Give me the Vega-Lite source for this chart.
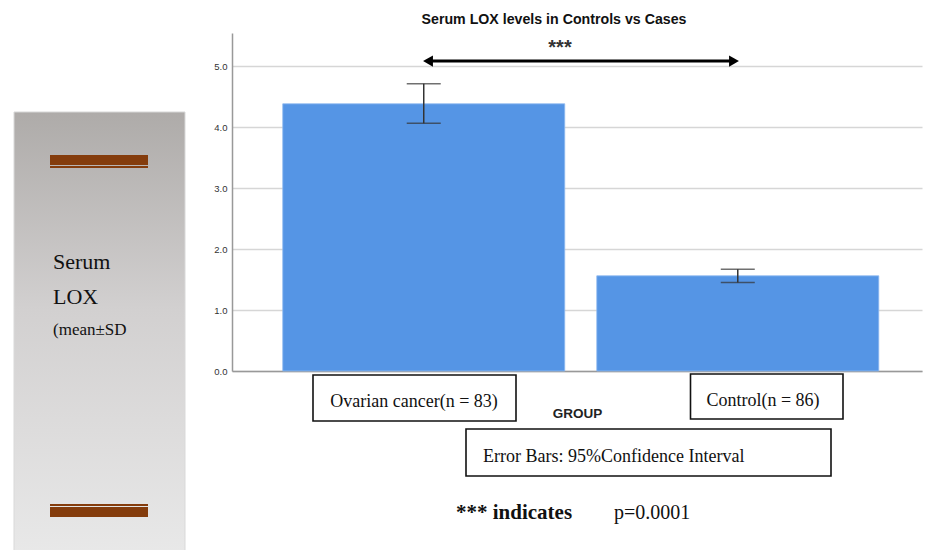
{
  "$schema": "https://vega.github.io/schema/vega-lite/v6.json",
  "autosize": "none",
  "width": 690,
  "height": 338,
  "padding": {"left": 232, "top": 33, "right": 3, "bottom": 179},
  "background": "white",
  "title": {"text": "Serum LOX levels in Controls vs Cases", "font": "Liberation Sans", "fontSize": 14.2, "fontWeight": "bold", "color": "#111", "anchor": "middle", "dx": -23, "offset": 6},
  "config": {
    "view": {"stroke": null},
    "axisY": {"grid": true, "gridColor": "#d6d6d6", "gridWidth": 1.5, "domainColor": "#999", "domainWidth": 1.5, "ticks": false, "labelFont": "Liberation Sans", "labelFontSize": 9.5, "labelColor": "#333", "labelPadding": 5},
    "axisX": {"grid": false}
  },
  "datasets": {
    "groups": [
      {"group": "Ovarian cancer", "mean": 4.38, "lo": 4.06, "hi": 4.71},
      {"group": "Control", "mean": 1.56, "lo": 1.45, "hi": 1.67}
    ],
    "panel": [{"x": -2.18, "x2": -0.47, "y": 4.246, "y2": -2.95}],
    "stripes": [
      {"x": -1.82, "x2": -0.84, "y": 3.541, "y2": 3.377},
      {"x": -1.82, "x2": -0.84, "y": 3.361, "y2": 3.328},
      {"x": -1.82, "x2": -0.84, "y": -2.180, "y2": -2.213},
      {"x": -1.82, "x2": -0.84, "y": -2.230, "y2": -2.393}
    ],
    "boxes": [
      {"x": 0.81, "x2": 2.84, "y": -0.066, "y2": -0.820},
      {"x": 4.585, "x2": 6.11, "y": -0.049, "y2": -0.787},
      {"x": 2.34, "x2": 5.99, "y": -0.951, "y2": -1.721}
    ],
    "centerTexts": [
      {"label": "Ovarian cancer(n = 83)", "x": 1.82, "y": -0.508},
      {"label": "Control(n = 86)", "x": 5.31, "y": -0.49}
    ],
    "leftTexts": [
      {"label": "Error Bars: 95%Confidence Interval", "x": 2.51, "y": -1.41, "size": 18},
      {"label": "p=0.0001", "x": 3.82, "y": -2.328, "size": 20},
      {"label": "Serum", "x": -1.79, "y": 1.787, "size": 22},
      {"label": "LOX", "x": -1.79, "y": 1.213, "size": 22},
      {"label": "(mean±SD", "x": -1.79, "y": 0.672, "size": 17}
    ],
    "boldTexts": [
      {"label": "*** indicates", "x": 2.24, "y": -2.328}
    ],
    "arrow": [{"x": 1.96, "x2": 5.02, "y": 5.08}],
    "heads": [
      {"x": 1.96, "y": 5.08, "shape": "triangle-left"},
      {"x": 5.02, "y": 5.08, "shape": "triangle-right"}
    ],
    "stars": [{"label": "***", "x": 3.28, "y": 5.30}]
  },
  "resolve": {"scale": {"x": "independent"}, "axis": {"x": "independent"}},
  "layer": [
    {
      "data": {"name": "groups"},
      "encoding": {
        "x": {"field": "group", "type": "nominal", "sort": null,
              "scale": {"paddingInner": 0.102, "paddingOuter": 0.1496, "align": 0.54},
              "axis": {"title": "GROUP", "labels": false, "ticks": false, "domain": true, "domainColor": "#999", "domainWidth": 1.5, "titleFont": "Liberation Sans", "titleFontSize": 13.5, "titleFontWeight": "bold", "titleColor": "#222", "titlePadding": 35}}
      },
      "layer": [
        {
          "mark": {"type": "bar", "color": "#5595e5", "stroke": "#8fbaf0", "strokeWidth": 0.8},
          "encoding": {
            "y": {"field": "mean", "type": "quantitative", "title": null,
                  "scale": {"domain": [0, 5.541], "nice": false, "zero": false},
                  "axis": {"values": [0, 1, 2, 3, 4, 5], "format": ".1f", "title": null}}
          }
        },
        {
          "mark": {"type": "rule", "color": "#333", "strokeWidth": 1.5},
          "encoding": {
            "y": {"field": "lo", "type": "quantitative", "title": null, "scale": {"domain": [0, 5.541], "nice": false, "zero": false}},
            "y2": {"field": "hi"}
          }
        },
        {
          "mark": {"type": "tick", "color": "#333", "thickness": 1.5, "size": 34, "orient": "horizontal"},
          "encoding": {
            "y": {"field": "lo", "type": "quantitative", "title": null, "scale": {"domain": [0, 5.541], "nice": false, "zero": false}}
          }
        },
        {
          "mark": {"type": "tick", "color": "#333", "thickness": 1.5, "size": 34, "orient": "horizontal"},
          "encoding": {
            "y": {"field": "hi", "type": "quantitative", "title": null, "scale": {"domain": [0, 5.541], "nice": false, "zero": false}}
          }
        }
      ]
    },
    {
      "layer": [
        {
          "data": {"name": "panel"},
          "mark": {"type": "rect", "stroke": "#d9d9d9", "strokeWidth": 1,
                   "fill": {"gradient": "linear", "x1": 0, "y1": 0, "x2": 0, "y2": 1,
                            "stops": [{"offset": 0, "color": "#aeaba9"}, {"offset": 0.45, "color": "#d2d0d0"}, {"offset": 1, "color": "#e8e8e8"}]}},
          "encoding": {
            "x": {"field": "x", "type": "quantitative", "axis": null, "scale": {"domain": [0, 6.9], "nice": false, "zero": false}},
            "x2": {"field": "x2"},
            "y": {"field": "y", "type": "quantitative", "title": null, "scale": {"domain": [0, 5.541], "nice": false, "zero": false}},
            "y2": {"field": "y2"}
          }
        },
        {
          "data": {"name": "stripes"},
          "mark": {"type": "rect", "color": "#843c0c"},
          "encoding": {
            "x": {"field": "x", "type": "quantitative", "axis": null, "scale": {"domain": [0, 6.9], "nice": false, "zero": false}},
            "x2": {"field": "x2"},
            "y": {"field": "y", "type": "quantitative", "title": null, "scale": {"domain": [0, 5.541], "nice": false, "zero": false}},
            "y2": {"field": "y2"}
          }
        },
        {
          "data": {"name": "boxes"},
          "mark": {"type": "rect", "fill": "white", "stroke": "#111", "strokeWidth": 1.6},
          "encoding": {
            "x": {"field": "x", "type": "quantitative", "axis": null, "scale": {"domain": [0, 6.9], "nice": false, "zero": false}},
            "x2": {"field": "x2"},
            "y": {"field": "y", "type": "quantitative", "title": null, "scale": {"domain": [0, 5.541], "nice": false, "zero": false}},
            "y2": {"field": "y2"}
          }
        },
        {
          "data": {"name": "centerTexts"},
          "mark": {"type": "text", "font": "Liberation Serif", "fontSize": 18, "color": "#111", "align": "center", "baseline": "middle"},
          "encoding": {
            "x": {"field": "x", "type": "quantitative", "axis": null, "scale": {"domain": [0, 6.9], "nice": false, "zero": false}},
            "y": {"field": "y", "type": "quantitative", "title": null, "scale": {"domain": [0, 5.541], "nice": false, "zero": false}},
            "text": {"field": "label"}
          }
        },
        {
          "data": {"name": "leftTexts"},
          "mark": {"type": "text", "font": "Liberation Serif", "color": "#111", "align": "left", "baseline": "middle"},
          "encoding": {
            "x": {"field": "x", "type": "quantitative", "axis": null, "scale": {"domain": [0, 6.9], "nice": false, "zero": false}},
            "y": {"field": "y", "type": "quantitative", "title": null, "scale": {"domain": [0, 5.541], "nice": false, "zero": false}},
            "text": {"field": "label"},
            "size": {"field": "size", "type": "quantitative", "scale": null, "legend": null}
          }
        },
        {
          "data": {"name": "boldTexts"},
          "mark": {"type": "text", "font": "Liberation Serif", "fontSize": 21, "fontWeight": "bold", "color": "#111", "align": "left", "baseline": "middle"},
          "encoding": {
            "x": {"field": "x", "type": "quantitative", "axis": null, "scale": {"domain": [0, 6.9], "nice": false, "zero": false}},
            "y": {"field": "y", "type": "quantitative", "title": null, "scale": {"domain": [0, 5.541], "nice": false, "zero": false}},
            "text": {"field": "label"}
          }
        },
        {
          "data": {"name": "arrow"},
          "mark": {"type": "rule", "color": "#000", "strokeWidth": 3},
          "encoding": {
            "x": {"field": "x", "type": "quantitative", "axis": null, "scale": {"domain": [0, 6.9], "nice": false, "zero": false}},
            "x2": {"field": "x2"},
            "y": {"field": "y", "type": "quantitative", "title": null, "scale": {"domain": [0, 5.541], "nice": false, "zero": false}}
          }
        },
        {
          "data": {"name": "heads"},
          "mark": {"type": "point", "filled": true, "color": "#000", "opacity": 1, "size": 130},
          "encoding": {
            "x": {"field": "x", "type": "quantitative", "axis": null, "scale": {"domain": [0, 6.9], "nice": false, "zero": false}},
            "y": {"field": "y", "type": "quantitative", "title": null, "scale": {"domain": [0, 5.541], "nice": false, "zero": false}},
            "shape": {"field": "shape", "type": "nominal", "scale": null, "legend": null}
          }
        },
        {
          "data": {"name": "stars"},
          "mark": {"type": "text", "font": "Liberation Sans", "fontSize": 20, "fontWeight": "bold", "color": "#333", "align": "center", "baseline": "middle"},
          "encoding": {
            "x": {"field": "x", "type": "quantitative", "axis": null, "scale": {"domain": [0, 6.9], "nice": false, "zero": false}},
            "y": {"field": "y", "type": "quantitative", "title": null, "scale": {"domain": [0, 5.541], "nice": false, "zero": false}},
            "text": {"field": "label"}
          }
        }
      ]
    }
  ]
}
